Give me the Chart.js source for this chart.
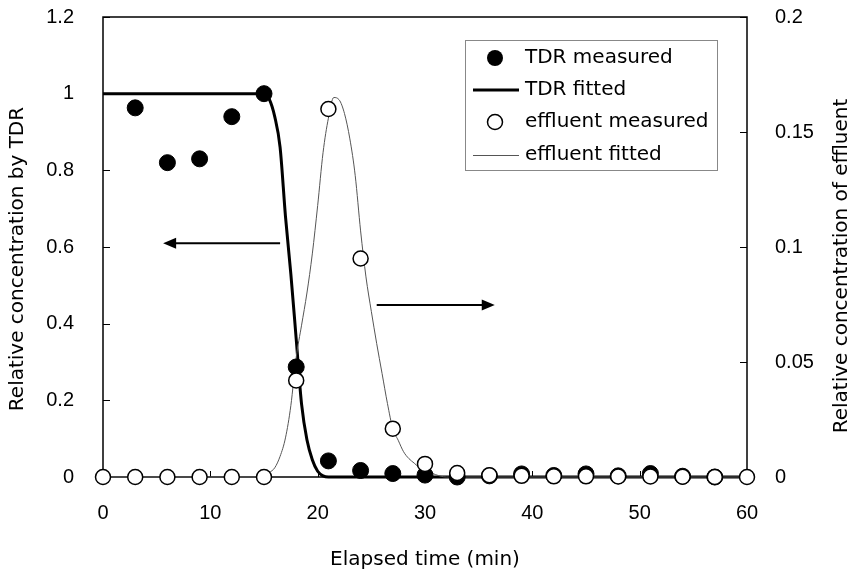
<!DOCTYPE html>
<html>
<head>
<meta charset="utf-8">
<script src="https://cdn.jsdelivr.net/npm/chart.js@4.4.1/dist/chart.umd.min.js"></script>
<style>
  body { margin: 0; background: #fff; }
  #wrap { width: 855px; height: 572px; }
</style>
</head>
<body>
<div id="wrap"><canvas id="myChart" width="855" height="572"></canvas></div>
<script>
// measured points (every 3 min)
const measX = [0, 3, 6, 9, 12, 15, 18, 21, 24, 27, 30, 33, 36, 39, 42, 45, 48, 51, 54, 57, 60]
const tdrMeasured = [null, 0.963, 0.82, 0.83, 0.94, 1.0, 0.287, 0.042, 0.017, 0.009, 0.005, 0.0, 0.003, 0.008, 0.004, 0.008, 0.003, 0.009, 0.002, 0.0, null]
const effMeasured = [0, 0, 0, 0, 0, 0, 0.042, 0.160, 0.095, 0.021, 0.0057, 0.0017, 0.0008, 0.0005, 0.0003, 0.0003, 0.0002, 0.0002, 0.0001, 0, 0]

// fitted curves
const tdrFitX = [0, 15, 15.5, 16, 16.5, 17, 17.5, 18, 18.5, 19, 19.5, 20, 20.5, 21, 60]
const tdrFitY = [1, 1, 0.985, 0.94, 0.86, 0.68, 0.53, 0.36, 0.19, 0.097, 0.045, 0.015, 0.003, 0, 0]
const effFitX = [0, 14, 15, 15.5, 16, 16.5, 17, 17.5, 18, 18.5, 19, 19.5, 20, 20.5, 21, 21.5, 22, 22.5, 23, 23.5, 24, 24.5, 25, 25.5, 26, 26.5, 27, 27.5, 28, 28.5, 29, 29.5, 30, 31, 32, 60]
const effFitY = [0, 0, 0.001, 0.002, 0.004, 0.009, 0.017, 0.031, 0.052, 0.066, 0.08, 0.097, 0.118, 0.141, 0.156, 0.165, 0.164, 0.158, 0.147, 0.131, 0.107, 0.087, 0.072, 0.058, 0.045, 0.032, 0.021, 0.016, 0.011, 0.008, 0.006, 0.004, 0.003, 0.001, 0, 0]

// axes
const xTicks = [0, 10, 20, 30, 40, 50, 60]
const leftTicks = [0, 0.2, 0.4, 0.6, 0.8, 1, 1.2]
const rightTicks = [0, 0.05, 0.1, 0.15, 0.2]

const legendLabels = ['TDR measured', 'TDR fitted', 'effluent measured', 'effluent fitted']

const pts = (xs, ys) => xs.map((x, i) => ({ x: x, y: ys[i] })).filter(p => p.y !== null)

const tickFont = { family: 'Liberation Sans', size: 20 }
const textFont = 'DejaVu Sans'

// fixed axis box sizes so the plot area sits where the original one does
function fixBox(size) {
  return s => {
    if (s.isHorizontal()) s.height = size
    else s.width = size
    s.paddingTop = 0
    s.paddingBottom = 0
    s.paddingLeft = 0
    s.paddingRight = 0
  }
}

// box, inward ticks, arrows, y titles and legend
const decor = {
  id: 'decor',
  beforeDatasetsDraw(chart) {
    const ctx = chart.ctx
    const a = chart.chartArea
    const sx = chart.scales.x, sy = chart.scales.y, sy2 = chart.scales.y2
    ctx.save()
    ctx.strokeStyle = '#000'
    ctx.lineWidth = 1.5
    ctx.strokeRect(a.left, a.top, a.right - a.left, a.bottom - a.top)
    ctx.lineWidth = 1
    ctx.beginPath()
    xTicks.forEach(v => {
      const px = Math.round(sx.getPixelForValue(v)) + 0.5
      ctx.moveTo(px, a.bottom); ctx.lineTo(px, a.bottom - 6)
    })
    leftTicks.forEach(v => {
      const py = Math.round(sy.getPixelForValue(v)) + 0.5
      ctx.moveTo(a.left, py); ctx.lineTo(a.left + 7, py)
    })
    rightTicks.forEach(v => {
      const py = Math.round(sy2.getPixelForValue(v)) + 0.5
      ctx.moveTo(a.right, py); ctx.lineTo(a.right - 7, py)
    })
    ctx.stroke()
    ctx.restore()
  },
  afterDraw(chart) {
    const ctx = chart.ctx
    const sx = chart.scales.x, sy = chart.scales.y
    ctx.save()
    // arrows
    const arrow = (x1, x2, yv) => {
      const p1 = sx.getPixelForValue(x1), p2 = sx.getPixelForValue(x2)
      const py = sy.getPixelForValue(yv)
      const dir = p2 > p1 ? 1 : -1
      ctx.strokeStyle = '#000'
      ctx.fillStyle = '#000'
      ctx.lineWidth = 2
      ctx.beginPath()
      ctx.moveTo(p1, py); ctx.lineTo(p2 - dir * 10, py)
      ctx.stroke()
      ctx.beginPath()
      ctx.moveTo(p2, py)
      ctx.lineTo(p2 - dir * 13, py - 5.5)
      ctx.lineTo(p2 - dir * 13, py + 5.5)
      ctx.closePath()
      ctx.fill()
    }
    arrow(16.5, 5.6, 0.61)
    arrow(25.5, 36.5, 0.449)
    ctx.restore()

    // y axis titles, both read bottom to top
    const vtitle = (text, x, y) => {
      ctx.save()
      ctx.fillStyle = '#000'
      ctx.font = '20px ' + textFont
      ctx.textAlign = 'center'
      ctx.textBaseline = 'middle'
      ctx.translate(x, y)
      ctx.rotate(-Math.PI / 2)
      ctx.fillText(text, 0, 0)
      ctx.restore()
    }
    vtitle('Relative concentration by TDR', 18, 259)
    vtitle('Relative concentration of effluent', 842, 266)

    // legend
    ctx.save()
    ctx.fillStyle = '#fff'
    ctx.fillRect(465, 40, 252, 130)
    ctx.strokeStyle = '#888'
    ctx.lineWidth = 1
    ctx.strokeRect(465.5, 40.5, 252, 130)
    const rows = [58, 90, 122, 155]
    ctx.font = '20px ' + textFont
    ctx.textAlign = 'left'
    ctx.textBaseline = 'middle'
    ctx.fillStyle = '#000'
    legendLabels.forEach((t, i) => ctx.fillText(t, 525, rows[i]))
    ctx.beginPath(); ctx.arc(495, rows[0], 8, 0, Math.PI * 2); ctx.fill()
    ctx.strokeStyle = '#000'; ctx.lineWidth = 3
    ctx.beginPath(); ctx.moveTo(473, rows[1]); ctx.lineTo(519, rows[1]); ctx.stroke()
    ctx.lineWidth = 1.5
    ctx.beginPath(); ctx.arc(495, rows[2], 7.5, 0, Math.PI * 2); ctx.stroke()
    ctx.strokeStyle = '#555'; ctx.lineWidth = 1
    ctx.beginPath(); ctx.moveTo(473, rows[3] + 0.5); ctx.lineTo(519, rows[3] + 0.5); ctx.stroke()
    ctx.restore()
  }
}

const ctx = document.getElementById('myChart').getContext('2d')
const myChart = new Chart(ctx, {
  type: 'scatter',
  data: {
    datasets: [
      {
        label: legendLabels[2],
        data: pts(measX, effMeasured),
        yAxisID: 'y2',
        pointRadius: 7.5,
        pointBackgroundColor: '#fff',
        pointBorderColor: '#000',
        pointBorderWidth: 1.5,
        showLine: false,
        clip: false,
        order: 0
      },
      {
        label: legendLabels[0],
        data: pts(measX, tdrMeasured),
        yAxisID: 'y',
        pointRadius: 8,
        pointBackgroundColor: '#000',
        pointBorderColor: '#000',
        pointBorderWidth: 1,
        showLine: false,
        clip: false,
        order: 1
      },
      {
        label: legendLabels[3],
        data: pts(effFitX, effFitY),
        yAxisID: 'y2',
        showLine: true,
        pointRadius: 0,
        borderColor: '#555',
        borderWidth: 1,
        cubicInterpolationMode: 'monotone',
        clip: false,
        order: 2
      },
      {
        label: legendLabels[1],
        data: pts(tdrFitX, tdrFitY),
        yAxisID: 'y',
        showLine: true,
        pointRadius: 0,
        borderColor: '#000',
        borderWidth: 3,
        cubicInterpolationMode: 'monotone',
        clip: false,
        order: 3
      }
    ]
  },
  options: {
    responsive: false,
    animation: false,
    layout: { padding: { top: 17, left: 0, right: 0, bottom: 0 } },
    plugins: {
      legend: { display: false },
      tooltip: { enabled: false }
    },
    scales: {
      x: {
        type: 'linear',
        min: 0, max: 60,
        grid: { display: false },
        border: { display: false },
        afterFit: fixBox(95),
        afterBuildTicks: s => { s.ticks = xTicks.map(v => ({ value: v })) },
        ticks: { font: tickFont, color: '#000', padding: 16, maxRotation: 0 },
        title: {
          display: true,
          text: 'Elapsed time (min)',
          font: { family: textFont, size: 20 },
          color: '#000',
          padding: { top: 0, bottom: 0 }
        }
      },
      y: {
        position: 'left',
        min: 0, max: 1.2,
        grid: { display: false },
        border: { display: false },
        afterFit: fixBox(103),
        afterBuildTicks: s => { s.ticks = leftTicks.map(v => ({ value: v })) },
        ticks: { font: tickFont, color: '#000', padding: 21, callback: v => String(+v.toFixed(2)) }
      },
      y2: {
        position: 'right',
        min: 0, max: 0.2,
        grid: { display: false },
        border: { display: false },
        afterFit: fixBox(108),
        afterBuildTicks: s => { s.ticks = rightTicks.map(v => ({ value: v })) },
        ticks: { font: tickFont, color: '#000', padding: 20, callback: v => String(+v.toFixed(2)) }
      }
    }
  },
  plugins: [decor]
})
</script>
</body>
</html>
